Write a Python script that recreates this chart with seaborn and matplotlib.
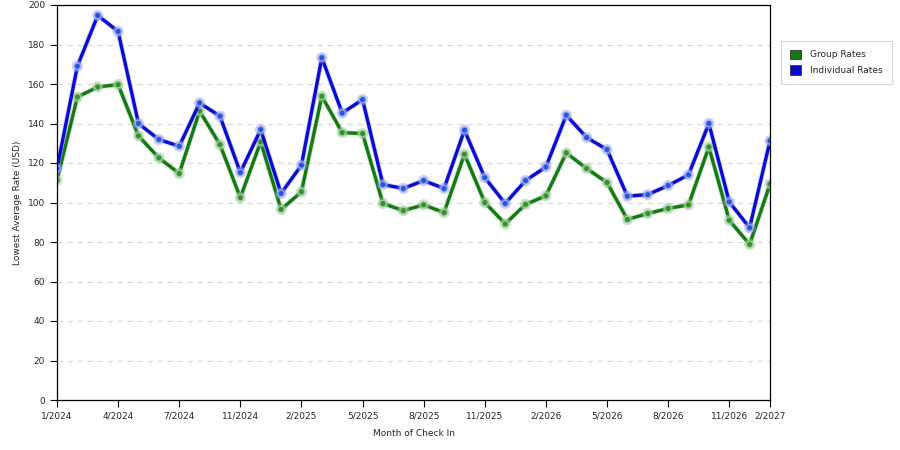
import pandas as pd
import numpy as np
import matplotlib
matplotlib.use("Agg")
import matplotlib.pyplot as plt
import matplotlib.patheffects as pe
from matplotlib.patches import Patch
import seaborn as sns

# month index 0..35, ticks every third point
month_idx = list(range(36))
tick_pos = [0, 3, 6, 9, 12, 15, 18, 21, 24, 27, 30, 33, 35]
tick_labels = ["1/2024", "4/2024", "7/2024", "11/2024", "2/2025", "5/2025", "8/2025",
               "11/2025", "2/2026", "5/2026", "8/2026", "11/2026", "2/2027"]

group_rates = [111.3, 153.4, 158.5, 159.7, 133.7, 122.6, 114.7, 146.3, 129.3, 102.5, 130.7, 96.5,
               105.4, 153.8, 135.4, 134.9, 99.5, 95.9, 98.8, 94.9, 124.4, 100.0, 89.2, 99.0,
               103.4, 125.1, 117.2, 110.1, 91.4, 94.4, 97.0, 98.8, 128.1, 91.0, 78.8, 109.3]
individual_rates = [117.2, 169.0, 194.7, 186.6, 140.0, 131.9, 128.5, 150.4, 143.7, 115.2, 136.9, 104.6,
                    118.9, 173.3, 145.3, 152.1, 109.1, 107.1, 111.1, 107.1, 136.6, 112.6, 99.5, 111.1,
                    118.0, 144.2, 132.9, 126.8, 103.2, 104.0, 108.6, 114.0, 140.0, 100.3, 87.2, 131.2]

df = pd.DataFrame({
    "Month": month_idx * 2,
    "Rate": group_rates + individual_rates,
    "Series": ["Group Rates"] * 36 + ["Individual Rates"] * 36,
})

sns.set_style("white")
plt.rcParams['font.family'] = ['DejaVu Sans']

fig = plt.figure(figsize=(9, 4.5), dpi=100)
ax = fig.add_axes([57 / 900, 50 / 450, 713 / 900, 395 / 450])

colors = {"Group Rates": "#137a13", "Individual Rates": "#0a0ad0"}
mfill = {"Group Rates": "#3a8f2a", "Individual Rates": "#2258e0"}
glow = {"Group Rates": "#9ccc9c", "Individual Rates": "#a0a8ee"}

for name in ["Group Rates", "Individual Rates"]:
    sub = df[df["Series"] == name]
    sns.lineplot(data=sub, x="Month", y="Rate", ax=ax, color=colors[name], lw=2.4,
                 marker="o", markersize=4.6, markerfacecolor=mfill[name],
                 markeredgecolor=glow[name], markeredgewidth=0.9,
                 path_effects=[pe.Stroke(linewidth=3.6, foreground=glow[name], alpha=0.5), pe.Normal()])

ax.set_xlim(0, 35)
ax.set_ylim(0, 200)
ax.set_yticks(range(0, 201, 20))
ax.set_xticks(tick_pos)
ax.set_xticklabels(tick_labels)
ax.tick_params(axis="both", which="both", direction="out", length=5, width=0.8,
               labelsize=6.5, color="black", bottom=True, left=True)
ax.yaxis.grid(True, linestyle=(0, (5, 4)), color="#d8d8d8", lw=0.8)
ax.xaxis.grid(False)
for s in ax.spines.values():
    s.set_color("black")
    s.set_linewidth(0.9)

ax.set_xlabel("Month of Check In", fontsize=6.5, labelpad=6)
ax.set_ylabel("Lowest Average Rate (USD)", fontsize=6.5, labelpad=4)

handles = [Patch(facecolor=colors["Group Rates"], edgecolor="#333333", lw=0.6),
           Patch(facecolor=colors["Individual Rates"], edgecolor="#333333", lw=0.6)]
leg = fig.legend(handles, ["Group Rates", "Individual Rates"], loc="upper left",
                 bbox_to_anchor=(776 / 900, 1 - 36 / 450), fontsize=6.5, frameon=True,
                 fancybox=False, edgecolor="#cccccc", handlelength=1.3, handleheight=1.3,
                 borderpad=1.0, labelspacing=0.6, handletextpad=1.0)
leg.get_frame().set_linewidth(0.8)

fig.savefig("out.png", dpi=100)
